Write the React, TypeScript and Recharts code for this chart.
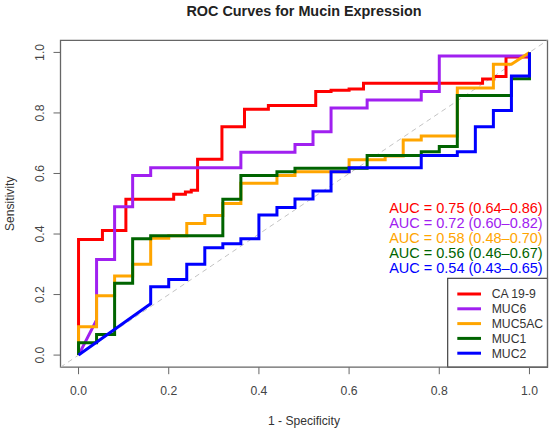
import React from 'react';
import { LineChart, Line, XAxis, YAxis, ReferenceLine, ReferenceArea, Customized } from 'recharts';

type Pt = { x: number; y: number };
const toPts = (a: number[][]): Pt[] => a.map(([x, y]) => ({ x, y }));

// ROC step points (1 - specificity, sensitivity)
const ca199 = [
  [0, 0], [0, 0.382], [0.053, 0.382], [0.053, 0.412], [0.105, 0.412], [0.105, 0.515],
  [0.211, 0.515], [0.211, 0.531], [0.237, 0.531], [0.237, 0.539], [0.25, 0.539], [0.25, 0.545],
  [0.264, 0.545], [0.264, 0.647], [0.318, 0.647], [0.318, 0.754], [0.368, 0.754], [0.368, 0.812],
  [0.421, 0.812], [0.421, 0.825], [0.526, 0.825], [0.526, 0.871], [0.56, 0.871], [0.56, 0.875],
  [0.6, 0.875], [0.6, 0.879], [0.632, 0.879], [0.632, 0.898], [0.896, 0.898], [0.896, 0.912],
  [0.921, 0.912], [0.921, 0.92], [0.948, 0.92], [0.948, 0.985], [1, 0.985], [1, 1],
];
const muc6 = [
  [0, 0], [0.04, 0.116], [0.04, 0.316], [0.08, 0.316], [0.08, 0.49], [0.12, 0.49], [0.12, 0.593],
  [0.16, 0.593], [0.16, 0.619], [0.36, 0.619], [0.36, 0.67], [0.48, 0.67], [0.48, 0.696],
  [0.52, 0.696], [0.52, 0.738], [0.56, 0.738], [0.56, 0.816], [0.64, 0.816], [0.64, 0.843],
  [0.76, 0.843], [0.76, 0.871], [0.8, 0.871], [0.8, 0.988], [1, 0.988], [1, 1],
];
const muc5ac = [
  [0, 0], [0, 0.094], [0.04, 0.094], [0.04, 0.196], [0.08, 0.196], [0.08, 0.261], [0.12, 0.261],
  [0.12, 0.3], [0.16, 0.3], [0.16, 0.386], [0.2, 0.386], [0.2, 0.394], [0.24, 0.394], [0.24, 0.435],
  [0.28, 0.435], [0.28, 0.461], [0.32, 0.461], [0.32, 0.501], [0.36, 0.501], [0.36, 0.568],
  [0.44, 0.568], [0.44, 0.593], [0.48, 0.593], [0.48, 0.606], [0.6, 0.606], [0.6, 0.645],
  [0.68, 0.645], [0.68, 0.658], [0.72, 0.658], [0.72, 0.711], [0.76, 0.711], [0.76, 0.724],
  [0.84, 0.724], [0.84, 0.882], [0.92, 0.882], [0.92, 0.961], [0.96, 0.961], [1, 1],
];
const muc1 = [
  [0, 0], [0, 0.041], [0.04, 0.041], [0.04, 0.068], [0.08, 0.068], [0.08, 0.237], [0.12, 0.237],
  [0.12, 0.384], [0.16, 0.384], [0.16, 0.394], [0.32, 0.394], [0.32, 0.515], [0.36, 0.515],
  [0.36, 0.593], [0.44, 0.593], [0.44, 0.606], [0.48, 0.606], [0.48, 0.617], [0.64, 0.617],
  [0.64, 0.659], [0.76, 0.659], [0.76, 0.672], [0.8, 0.672], [0.8, 0.689], [0.84, 0.689],
  [0.84, 0.858], [0.96, 0.858], [0.96, 0.913], [1, 0.913], [1, 1],
];
const muc2 = [
  [0, 0], [0.16, 0.17], [0.16, 0.226], [0.2, 0.226], [0.2, 0.25], [0.24, 0.25], [0.24, 0.3],
  [0.28, 0.3], [0.28, 0.355], [0.32, 0.355], [0.32, 0.368], [0.36, 0.368], [0.36, 0.384],
  [0.4, 0.384], [0.4, 0.463], [0.44, 0.463], [0.44, 0.488], [0.48, 0.488], [0.48, 0.516],
  [0.52, 0.516], [0.52, 0.542], [0.56, 0.542], [0.56, 0.606], [0.6, 0.606], [0.6, 0.619],
  [0.76, 0.619], [0.76, 0.659], [0.84, 0.659], [0.84, 0.672], [0.88, 0.672], [0.88, 0.754],
  [0.92, 0.754], [0.92, 0.808], [0.96, 0.808], [0.96, 0.922], [1, 0.922], [1, 1],
];

const seriesNames = ['CA 19-9', 'MUC6', 'MUC5AC', 'MUC1', 'MUC2'];
const seriesColors = ['#FF0000', '#A020F0', '#FFA500', '#006400', '#0000FF'];
const seriesData = [ca199, muc6, muc5ac, muc1, muc2];
const aucLabels = [
  'AUC = 0.75 (0.64\u20130.86)',
  'AUC = 0.72 (0.60\u20130.82)',
  'AUC = 0.58 (0.48\u20130.70)',
  'AUC = 0.56 (0.46\u20130.67)',
  'AUC = 0.54 (0.43\u20130.65)',
];
const axisTicks = [0, 0.2, 0.4, 0.6, 0.8, 1];
const tickLabels = ['0.0', '0.2', '0.4', '0.6', '0.8', '1.0'];

const FONT = '"Liberation Sans", Arial, Helvetica, sans-serif';
const W = 550;
const H = 431;
const M = { top: 40.3, right: 2.5, bottom: 0, left: 0 };
const Y_AXIS_W = 60.5;
const X_AXIS_H = 63.8;
const plotLeft = M.left + Y_AXIS_W;
const plotRight = W - M.right;
const plotTop = M.top;
const plotBottom = H - X_AXIS_H - M.bottom;

const labelFor = (v: number) => {
  const i = axisTicks.findIndex((t) => Math.abs(t - v) < 1e-9);
  return i >= 0 ? tickLabels[i] : String(v);
};

const XTick = (props: any) => {
  const { x, y, payload } = props;
  return (
    <text x={x} y={y + 20.3} textAnchor="middle" fontFamily={FONT} fontSize={12.2} fill="#444">
      {labelFor(payload.value)}
    </text>
  );
};

const YTick = (props: any) => {
  const { x, y, payload } = props;
  const bx = x - 9.7;
  return (
    <text x={bx} y={y} transform={`rotate(-90, ${bx}, ${y})`} textAnchor="middle" fontFamily={FONT} fontSize={12.2} fill="#444">
      {labelFor(payload.value)}
    </text>
  );
};

const Annotations = () => {
  const cx = (plotLeft + plotRight) / 2;
  const cy = (plotTop + plotBottom) / 2;
  const legLeft = 447.7;
  const legTop = 278.3;
  const legRow0 = 294;
  const legStep = 14.8;
  return (
    <g>
      <text x={cx} y={15.9} textAnchor="middle" fontFamily={FONT} fontSize={14.4} fontWeight="bold" fill="#222">
        ROC Curves for Mucin Expression
      </text>
      <text x={cx} y={424.5} textAnchor="middle" fontFamily={FONT} fontSize={12.1} fill="#333">
        1 - Specificity
      </text>
      <text x={13.5} y={cy} transform={`rotate(-90, 13.5, ${cy})`} textAnchor="middle" fontFamily={FONT} fontSize={12.1} fill="#333">
        Sensitivity
      </text>
      {aucLabels.map((t, i) => (
        <text key={t} x={542.7} y={207.3 + i * 15 + 5.2} textAnchor="end" fontFamily={FONT} fontSize={14.5} fill={seriesColors[i]}>
          {t}
        </text>
      ))}
      <rect x={legLeft} y={legTop} width={plotRight - legLeft} height={plotBottom - legTop} fill="#fff" stroke="#333" strokeWidth={1.1} />
      {seriesNames.map((n, i) => {
        const ry = legRow0 + i * legStep;
        return (
          <g key={n}>
            <line x1={457.3} x2={481} y1={ry} y2={ry} stroke={seriesColors[i]} strokeWidth={3} />
            <text x={491.7} y={ry + 4.4} fontFamily={FONT} fontSize={12.2} fill="#333">
              {n}
            </text>
          </g>
        );
      })}
    </g>
  );
};

export default function App() {
  return (
    <div style={{ position: 'absolute', left: 0, top: 0, width: W, height: H, background: '#fff' }}>
      <LineChart width={W} height={H} margin={M}>
        <XAxis
          type="number"
          dataKey="x"
          domain={[-0.04, 1.04]}
          ticks={axisTicks}
          interval={0}
          allowDataOverflow
          height={X_AXIS_H}
          axisLine={false}
          tickSize={7}
          tickMargin={0}
          tickLine={{ stroke: '#666', strokeWidth: 1 }}
          tick={(p: any) => <XTick {...p} />}
        />
        <YAxis
          type="number"
          domain={[-0.04, 1.04]}
          ticks={axisTicks}
          interval={0}
          allowDataOverflow
          width={Y_AXIS_W}
          axisLine={false}
          tickSize={7}
          tickMargin={0}
          tickLine={{ stroke: '#666', strokeWidth: 1 }}
          tick={(p: any) => <YTick {...p} />}
        />
        <ReferenceLine
          segment={[{ x: -0.04, y: -0.04 }, { x: 1.04, y: 1.04 }]}
          stroke="#c4c4c4"
          strokeWidth={1}
          strokeDasharray="5 4"
          ifOverflow="visible"
        />
        {seriesData.map((d, i) => (
          <Line
            key={seriesNames[i]}
            data={toPts(d)}
            dataKey="y"
            name={seriesNames[i]}
            type="linear"
            stroke={seriesColors[i]}
            strokeWidth={3}
            dot={false}
            activeDot={false}
            isAnimationActive={false}
          />
        ))}
        <ReferenceArea
          x1={-0.04}
          x2={1.04}
          y1={-0.04}
          y2={1.04}
          fill="none"
          stroke="#666"
          strokeWidth={1.3}
          ifOverflow="visible"
        />
        <Customized component={<Annotations />} />
      </LineChart>
    </div>
  );
}
